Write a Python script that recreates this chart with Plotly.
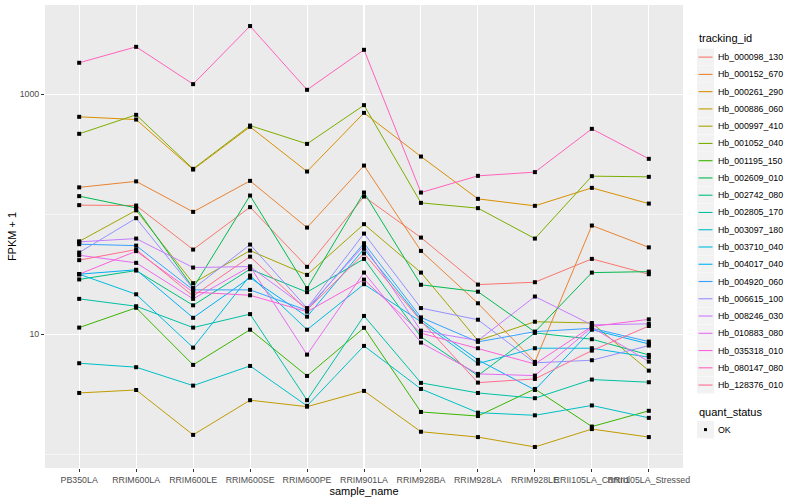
import math
import plotly.graph_objects as go

samples = ["PB350LA", "RRIM600LA", "RRIM600LE", "RRIM600SE", "RRIM600PE", "RRIM901LA",
           "RRIM928BA", "RRIM928LA", "RRIM928LE", "RRII105LA_Control", "RRII105LA_Stressed"]

tracking_ids = ["Hb_000098_130", "Hb_000152_670", "Hb_000261_290", "Hb_000886_060", "Hb_000997_410",
                "Hb_001052_040", "Hb_001195_150", "Hb_002609_010", "Hb_002742_080", "Hb_002805_170",
                "Hb_003097_180", "Hb_003710_040", "Hb_004017_040", "Hb_004920_060", "Hb_006615_100",
                "Hb_008246_030", "Hb_010883_080", "Hb_035318_010", "Hb_080147_080", "Hb_128376_010"]

colors = ["#F8766D", "#EA8331", "#D89000", "#C09B00", "#A3A500", "#7CAE00", "#39B600", "#00BB4E",
          "#00BF7D", "#00C1A3", "#00BFC4", "#00BAE0", "#00B0F6", "#35A2FF", "#9590FF", "#C77CFF",
          "#E76BF3", "#FA62DB", "#FF62BC", "#FF6C91"]

quant_status = ["OK"]

# FPKM + 1 per gene, in sample order
hb_000098_130 = [118.9, 118.0, 50.7, 114.4, 36.4, 140.2, 63.8, 25.9, 27.1, 42.4, 31.6]
hb_000152_670 = [167.2, 187.6, 104.5, 189.4, 77.3, 254.0, 49.4, 18.1, 5.88, 80.4, 52.9]
hb_000261_290 = [647, 614, 235.3, 534, 226.5, 698, 302, 134.1, 117.3, 165.6, 122.5]
hb_000886_060 = [3.24, 3.43, 1.45, 2.82, 2.49, 3.37, 1.54, 1.39, 1.15, 1.62, 1.39]
hb_000997_410 = [59.3, 107.6, 26.6, 49.7, 31.2, 82.5, 32.6, 8.85, 12.7, 12.4, 4.97]
hb_001052_040 = [467, 672, 238.5, 547, 385, 809, 124.2, 112.2, 62.6, 207.3, 204.6]
hb_001195_150 = [11.35, 16.6, 5.55, 10.9, 4.49, 11.3, 2.25, 2.08, 3.50, 1.70, 2.30]
hb_002609_010 = [141.3, 112.8, 24.3, 142.9, 24.2, 151.4, 25.8, 22.6, 10.45, 32.6, 33.2]
hb_002742_080 = [28.6, 33.9, 17.4, 34.8, 22.4, 42.4, 9.5, 4.52, 10.25, 9.08, 6.72]
hb_002805_170 = [19.7, 17.1, 11.35, 14.7, 2.82, 14.2, 3.93, 3.24, 2.93, 4.19, 3.98]
hb_003097_180 = [5.73, 5.31, 3.73, 5.44, 2.53, 7.99, 3.50, 2.22, 2.11, 2.55, 2.01]
hb_003710_040 = [31.6, 21.5, 7.73, 30.8, 10.9, 26.1, 12.7, 5.69, 7.64, 7.64, 6.43]
hb_004017_040 = [31.6, 34.4, 13.7, 29.6, 14.0, 51.4, 13.2, 6.11, 3.43, 10.9, 8.30]
hb_004920_060 = [56.2, 54.7, 23.4, 23.4, 15.8, 57.3, 13.8, 8.63, 10.5, 11.2, 8.68]
hb_006615_100 = [47.9, 92.6, 23.9, 55.8, 16.5, 68.9, 16.5, 13.2, 5.77, 6.07, 8.04]
hb_008246_030 = [58.8, 62.6, 35.9, 36.6, 16.3, 54.7, 10.7, 8.85, 20.6, 11.95, 12.2]
hb_010883_080 = [45.5, 39.3, 19.7, 36.6, 6.76, 32.6, 8.51, 4.67, 4.52, 11.4, 5.91]
hb_035318_010 = [31.6, 49.2, 22.4, 21.1, 15.4, 28.5, 10.2, 7.64, 5.65, 11.6, 13.3]
hb_080147_080 = [1824, 2477, 1211, 3690, 1086, 2339, 151.4, 208.5, 223.9, 513.6, 289]
hb_128376_010 = [41.4, 50.7, 20.8, 44.3, 15.9, 47.1, 12.9, 3.95, 4.24, 7.30, 11.7]

series = [hb_000098_130, hb_000152_670, hb_000261_290, hb_000886_060, hb_000997_410,
          hb_001052_040, hb_001195_150, hb_002609_010, hb_002742_080, hb_002805_170,
          hb_003097_180, hb_003710_040, hb_004017_040, hb_004920_060, hb_006615_100,
          hb_008246_030, hb_010883_080, hb_035318_010, hb_080147_080, hb_128376_010]

FONT = "Liberation Sans, Arial, sans-serif"
W, H = 800, 500
ML, MR, MT, MB = 45, 117, 5, 32
PW, PH = W - ML - MR, H - MT - MB


def px(xp):   # pixel x -> paper x
    return (xp - ML) / PW


def py(yp):   # pixel y -> paper y
    return (H - MB - yp) / PH


fig = go.Figure()
for name, vals, col in zip(tracking_ids, series, colors):
    fig.add_trace(go.Scatter(x=samples, y=vals, mode="lines", name=name,
                             line=dict(color=col, width=1), showlegend=False))

all_x = [s for _ in series for s in samples]
all_y = [v for vals in series for v in vals]
fig.add_trace(go.Scatter(x=all_x, y=all_y, mode="markers", name=quant_status[0],
                         marker=dict(symbol="square", size=4, color="black"),
                         showlegend=False))

lo = min(math.log10(v) for v in all_y)
hi = max(math.log10(v) for v in all_y)
pad = (hi - lo) * 0.05

# ---- manual ggplot-style legends ----
shapes, annotations = [], []
LX = 697          # key box left
KEY = 17.26       # key height / spacing
TOP0 = 48.5       # top of first key
annotations.append(dict(x=px(LX), y=py(38), xref="paper", yref="paper", text="tracking_id",
                        showarrow=False, xanchor="left", yanchor="middle",
                        font=dict(size=11, color="black", family=FONT)))
for i, (name, col) in enumerate(zip(tracking_ids, colors)):
    t = TOP0 + i * KEY
    c = t + KEY / 2
    shapes.append(dict(type="rect", xref="paper", yref="paper",
                       x0=px(LX), x1=px(LX + 17), y0=py(t), y1=py(t + KEY - 0.3),
                       fillcolor="#F2F2F2", line=dict(width=0), layer="above"))
    shapes.append(dict(type="line", xref="paper", yref="paper",
                       x0=px(LX + 1.5), x1=px(LX + 15.5), y0=py(c), y1=py(c),
                       line=dict(color=col, width=1.1), layer="above"))
    annotations.append(dict(x=px(LX + 19), y=py(c), xref="paper", yref="paper", text=name,
                            showarrow=False, xanchor="left", yanchor="middle",
                            font=dict(size=8.8, color="black", family=FONT)))

annotations.append(dict(x=px(LX), y=py(412), xref="paper", yref="paper", text="quant_status",
                        showarrow=False, xanchor="left", yanchor="middle",
                        font=dict(size=11, color="black", family=FONT)))
qt = 421
shapes.append(dict(type="rect", xref="paper", yref="paper",
                   x0=px(LX), x1=px(LX + 17), y0=py(qt), y1=py(qt + KEY),
                   fillcolor="#F2F2F2", line=dict(width=0), layer="above"))
shapes.append(dict(type="rect", xref="paper", yref="paper",
                   x0=px(LX + 7), x1=px(LX + 10), y0=py(qt + 7.1), y1=py(qt + 10.1),
                   fillcolor="black", line=dict(width=0), layer="above"))
annotations.append(dict(x=px(LX + 19), y=py(qt + KEY / 2), xref="paper", yref="paper",
                        text=quant_status[0], showarrow=False, xanchor="left", yanchor="middle",
                        font=dict(size=8.8, color="black", family=FONT)))

fig.update_layout(
    width=W, height=H,
    margin=dict(l=ML, r=MR, t=MT, b=MB, autoexpand=False),
    paper_bgcolor="white", plot_bgcolor="#EBEBEB",
    font=dict(family=FONT, color="black"),
    showlegend=False,
    xaxis=dict(type="category", range=[-0.6, len(samples) - 0.4],
               showgrid=True, gridcolor="white", gridwidth=1.07, zeroline=False,
               ticks="outside", ticklen=3, tickcolor="#333333", tickwidth=1,
               tickfont=dict(size=8.8, color="#4D4D4D"), tickangle=0, automargin=False,
               title=dict(text="sample_name", font=dict(size=11), standoff=2)),
    yaxis=dict(type="log", range=[lo - pad, hi + pad],
               tickvals=[10, 1000], ticktext=["10", "1000"],
               showgrid=True, gridcolor="white", gridwidth=1.07, zeroline=False,
               ticks="outside", ticklen=3, tickcolor="#333333", tickwidth=1,
               tickfont=dict(size=8.8, color="#4D4D4D"), automargin=False,
               minor=dict(tickvals=[1, 100, 10000], showgrid=True, gridcolor="white",
                          gridwidth=0.53, ticks=""),
               title=dict(text="FPKM + 1", font=dict(size=11), standoff=0)),
    shapes=shapes,
    annotations=annotations,
)

fig.write_html("out.html",
               config={"displayModeBar": False, "staticPlot": True},
               post_script="document.body.style.margin='0';document.body.style.overflow='hidden';")
